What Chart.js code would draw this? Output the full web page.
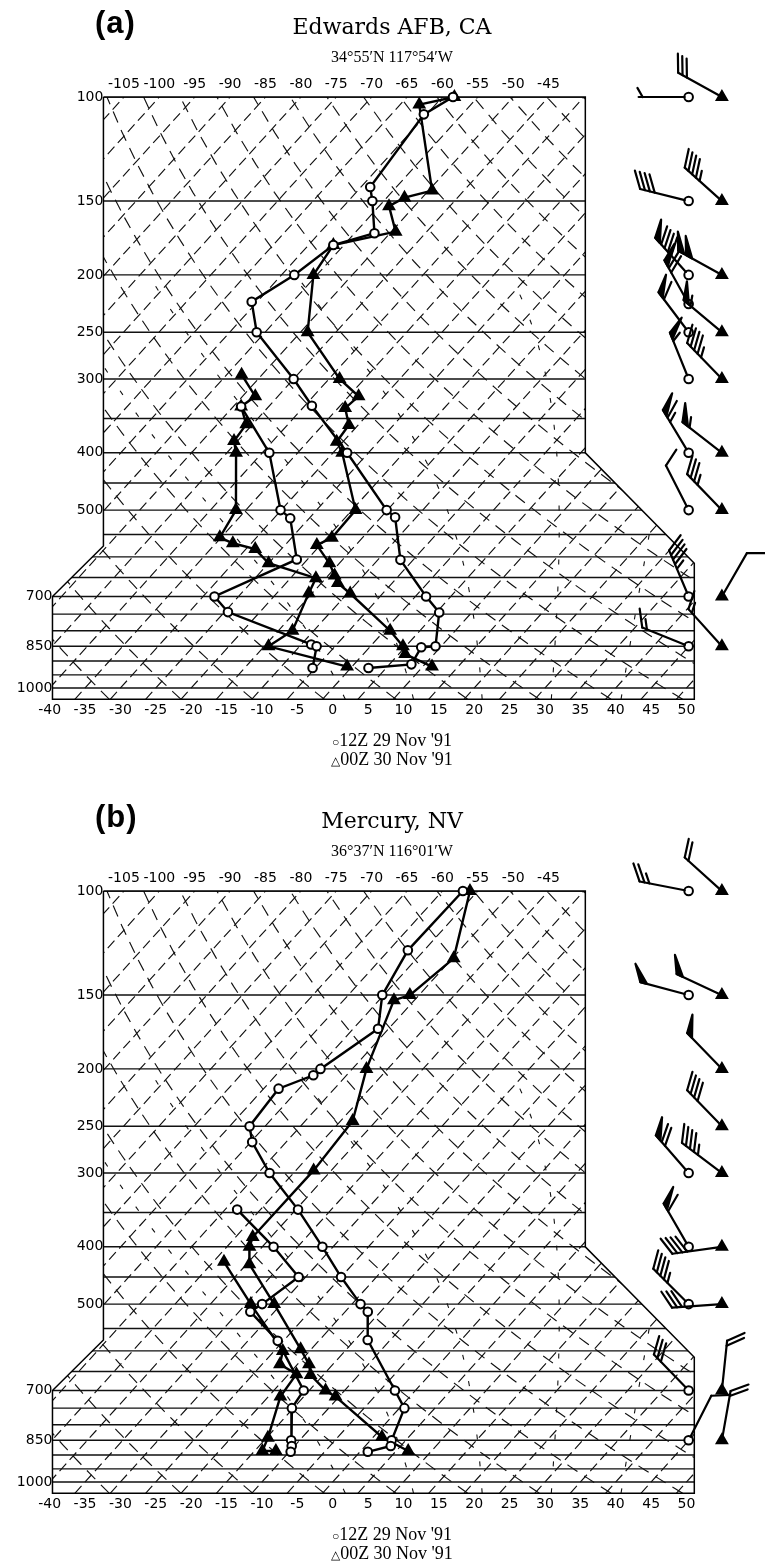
<!DOCTYPE html>
<html>
<head>
<meta charset="utf-8">
<script src="https://cdn.jsdelivr.net/npm/chart.js@4.4.1/dist/chart.umd.min.js"></script>
<style>
  body { margin: 0; background: #fff; }
  #page { position: relative; width: 765px; height: 1564px; overflow: hidden; color: #000; }
  .panel { position: absolute; left: 0; width: 765px; }
  .panel canvas { position: absolute; left: 0; top: 0; }
  .tag { position: absolute; left: 95px; font: bold 31px "Liberation Sans", Arial, sans-serif; line-height: 1; letter-spacing: 1px; }
  .title { position: absolute; left: 0; width: 784px; text-align: center; font: 22px "DejaVu Serif", serif; line-height: 1; }
  .coord { position: absolute; left: 0; width: 784px; text-align: center; font: 16px "Liberation Serif", serif; line-height: 1; }
  .leg { position: absolute; left: 0; width: 784px; text-align: center; font: 18px "Liberation Serif", serif; line-height: 1; }
  .leg .sym { font-size: 12px; }
</style>
</head>
<body>
<div id="page">
  <div class="panel" style="top:0;height:794px">
    <canvas id="chartA" width="765" height="794"></canvas>
    <div class="tag" style="top:7px">(a)</div>
    <div class="title" style="top:16px">Edwards AFB, CA</div>
    <div class="coord" style="top:49px">34°55′N 117°54′W</div>
    <div class="leg" style="top:731px"><span class="sym">○</span>12Z 29 Nov '91</div>
    <div class="leg" style="top:750px"><span class="sym">△</span>00Z 30 Nov '91</div>
  </div>
  <div class="panel" style="top:794px;height:770px">
    <canvas id="chartB" width="765" height="770"></canvas>
    <div class="tag" style="top:7px">(b)</div>
    <div class="title" style="top:16px">Mercury, NV</div>
    <div class="coord" style="top:49px">36°37′N 116°01′W</div>
    <div class="leg" style="top:731px"><span class="sym">○</span>12Z 29 Nov '91</div>
    <div class="leg" style="top:750px"><span class="sym">△</span>00Z 30 Nov '91</div>
  </div>
</div>
<script>
// ---- soundings: pressure (hPa) and temperature (°C) ----

// (a) Edwards AFB, 12Z 29 Nov '91
const EDW_12_P  = [100, 107, 142, 150, 170, 178, 200, 222, 250, 300, 333, 400, 500, 514, 607, 700, 745, 850, 853, 912, 925];
const EDW_12_T  = [-58.5, -60.4, -58.7, -56.6, -52.2, -56.5, -58.2, -60.8, -56.2, -45.0, -39.0, -28.0, -15.1, -13.0, -6.8, 1.5, 5.4, 9.2, 7.3, 8.1, 2.5];
const EDW_12_DP = [334, 400, 500, 516, 606, 700, 744, 844, 850, 925];
const EDW_12_TD = [-48.9, -39.0, -30.1, -27.7, -21.5, -28.4, -24.5, -8.6, -7.6, -5.4];
// (a) Edwards AFB, 00Z 30 Nov '91
const EDW_00_P  = [100, 103, 144, 148, 153, 169, 178, 200, 250, 300, 321, 336, 359, 383, 400, 500, 557, 573, 615, 645, 664, 692, 800, 850, 876, 920];
const EDW_00_T  = [-58.3, -62.3, -49.5, -52.5, -53.6, -49.4, -56.5, -55.5, -49.0, -38.5, -33.6, -34.0, -31.3, -30.9, -28.7, -19.5, -19.3, -20.5, -16.4, -14.1, -12.7, -9.6, 0.8, 4.6, 5.9, 11.3];
const EDW_00_DP = [295, 321, 334, 358, 382, 400, 500, 556, 569, 582, 615, 652, 691, 800, 850, 920];
const EDW_00_TD = [-52.9, -48.2, -48.9, -45.9, -45.5, -43.7, -36.4, -35.2, -32.6, -28.7, -25.0, -16.4, -15.5, -13.0, -14.4, -0.7];

// (b) Mercury, 12Z 29 Nov '91
const MER_12_P  = [100, 126, 150, 171, 200, 205, 216, 250, 266, 300, 346, 400, 450, 500, 515, 575, 700, 750, 850, 869, 889];
const MER_12_T  = [-57.1, -57.3, -55.2, -51.5, -54.5, -54.7, -57.9, -57.2, -54.8, -48.4, -39.7, -31.5, -25.0, -18.8, -16.8, -13.2, -2.9, 0.7, 3.0, 3.6, 1.1];
const MER_12_DP = [346, 400, 450, 500, 515, 577, 700, 750, 850, 869, 889];
const MER_12_TD = [-48.3, -38.4, -31.0, -32.7, -33.4, -25.8, -15.8, -15.2, -11.2, -10.4, -9.8];
// (b) Mercury, 00Z 30 Nov '91
const MER_00_P  = [100, 130, 150, 153, 200, 245, 297, 385, 400, 428, 500, 596, 632, 659, 700, 717, 839, 886];
const MER_00_T  = [-56.1, -49.8, -51.3, -52.9, -48.0, -43.3, -42.5, -42.6, -41.8, -39.6, -31.0, -21.5, -18.4, -16.8, -12.7, -10.5, 1.2, 6.7];
const MER_00_DP = [424, 500, 600, 632, 657, 717, 842, 886, 886];
const MER_00_TD = [-43.5, -34.3, -23.8, -22.5, -18.9, -18.3, -14.8, -13.9, -12.0];

// ---- winds: level (hPa), direction (deg), speed (kt) ----
const EDW_W12_P = [100, 150, 200, 224, 250, 300, 400, 500, 700, 850];
const EDW_W12_D = [270, 284, 318, 331, 323, 338, 329, 333, 337, 292];
const EDW_W12_S = [5, 40, 90, 70, 60, 55, 65, 10, 45, 15];
const EDW_W00_P = [100, 150, 200, 250, 300, 400, 500, 700, 850];
const EDW_W00_D = [299, 312, 299, 310, 316, 308, 316, 30, 318];
const EDW_W00_S = [30, 45, 100, 55, 45, 55, 35, 10, 15];

const MER_W12_P = [100, 150, 300, 400, 500, 700, 850];
const MER_W12_D = [281, 285, 319, 330, 315, 316, 27];
const MER_W12_S = [25, 50, 70, 60, 45, 30, 10];
const MER_W00_P = [100, 150, 200, 250, 300, 400, 500, 700, 850];
const MER_W00_D = [312, 295, 316, 316, 307, 262, 266, 6, 10];
const MER_W00_S = [20, 50, 50, 40, 45, 40, 30, 20, 20];

// ---- diagram grid ----
const ISOBARS = [100, 150, 200, 250, 300, 350, 400, 450, 500, 550, 600, 650, 700, 750, 800, 850, 900, 950, 1000];
const ISOTHERMS = [-105, -100, -95, -90, -85, -80, -75, -70, -65, -60, -55, -50, -45, -40, -35, -30, -25, -20, -15, -10, -5, 0, 5, 10, 15, 20, 25, 30, 35, 40, 45, 50];
const THETAS = [230, 240, 250, 260, 270, 280, 290, 300, 310, 320, 330, 340, 350, 360, 370, 380, 390, 400, 410, 420, 430, 440, 450, 460];
const THETA_W = [1, 11, 21, 31, 41];
const BOTTOM_TICKS = [-40, -35, -30, -25, -20, -15, -10, -5, 0, 5, 10, 15, 20, 25, 30, 35, 40, 45, 50];
const TOP_TICKS = [-105, -100, -95, -90, -85, -80, -75, -70, -65, -60, -55, -50, -45];
const P_TICKS_UP = [100, 150, 200, 250, 300, 400, 500];
const P_TICKS_LOW = [700, 850, 1000];

// ---- geometry ----
const SKEW = 75.5;                 // isotherm shift per decade of pressure, in deg
const PX0 = 332.3, PPU = 7.133;    // pixel of 0 deg on the bottom axis, pixels per deg
const PAD_L = 5, PAD_R = 5, W = 765;
const X_MIN = (PAD_L - PX0) / PPU, X_MAX = (W - PAD_R - PX0) / PPU;
const P_TOP = 100, P_BOT = 1045;
const TOP_H = 97;
// outline of the plotting area, in skewed units / hPa
const FRAME = [[-32.4, 100], [35.7, 100], [35.7, 400], [51.1, 615], [51.1, P_BOT], [-39.6, P_BOT], [-39.6, 700], [-32.4, 575]];
const STN_12 = 50.3, STN_00 = 55.0;   // columns of the wind plots
const STAFF = 50, BARB = 19;

const skewX = (t, p) => t + SKEW * Math.log10(1000 / p);
const TICK_FONT = { family: "DejaVu Sans, sans-serif", size: 14 };

function profile(P, T, shape) {
  const tri = shape === "triangle";
  return {
    data: P.map((p, i) => ({ x: skewX(T[i], p), y: p })),
    borderColor: "#000", borderWidth: 2.4, tension: 0,
    pointStyle: shape, pointRadius: tri ? 6 : 4.3,
    pointBackgroundColor: tri ? "#000" : "#fff", pointBorderColor: "#000", pointBorderWidth: 2,
    clip: false, order: 0,
  };
}

function stations(x, P, shape) {
  const tri = shape === "triangle";
  return {
    data: P.map((p) => ({ x, y: p })),
    showLine: false, pointStyle: shape, pointRadius: tri ? 6 : 4.3,
    pointBackgroundColor: tri ? "#000" : "#fff", pointBorderColor: "#000", pointBorderWidth: 2,
    clip: false, order: 1,
  };
}

function gridSet(lines, dash, width) {
  const data = [];
  lines.forEach((l) => { data.push(...l, { x: 0, y: null }); });
  return {
    data, borderColor: "#111", borderWidth: width, borderDash: dash,
    pointRadius: 0, spanGaps: false, tension: 0, toFrame: true, order: 10,
  };
}

function isobarLines() {
  return ISOBARS.map((p) => [{ x: X_MIN - 20, y: p }, { x: X_MAX + 20, y: p }]);
}
function isothermLines() {
  return ISOTHERMS.map((t) => [{ x: skewX(t, P_BOT), y: P_BOT }, { x: skewX(t, P_TOP), y: P_TOP }]);
}
const LEVELS = [];
for (let p = P_BOT; p >= P_TOP; p -= 15) LEVELS.push(p);
if (LEVELS[LEVELS.length - 1] !== P_TOP) LEVELS.push(P_TOP);

function adiabatLines() {
  return THETAS.map((th) => LEVELS.map((p) => ({ x: skewX(th * Math.pow(p / 1000, 0.2857) - 273.15, p), y: p })));
}
// pseudo-adiabats, stepped upward from 1000 hPa
function moistLines() {
  const Rd = 287.04, Cp = 1005.7, Lv = 2.501e6, eps = 0.622;
  const rate = (T, p) => {
    const es = 6.112 * Math.exp(17.67 * (T - 273.15) / (T - 29.65));
    const rs = eps * es / (p - es);
    return (Rd * T + Lv * rs) / (p * (Cp + Lv * Lv * rs * eps / (Rd * T * T)));
  };
  return THETA_W.map((tw) => {
    const pts = [];
    let T = tw + 273.15;
    for (let p = 1000; p < P_BOT; p += 5) T += rate(T, p) * 5;
    for (let p = P_BOT; p >= 200; p -= 5) {
      if (p % 20 === 0 || p === P_BOT) pts.push({ x: skewX(T - 273.15, p), y: p });
      T -= rate(T, p) * 5;
    }
    return pts;
  });
}

function tracePath(chart, pts) {
  const { x, y } = chart.scales, ctx = chart.ctx;
  ctx.beginPath();
  pts.forEach((v, i) => {
    const px = x.getPixelForValue(v[0]), py = y.getPixelForValue(v[1]);
    if (i) ctx.lineTo(px, py); else ctx.moveTo(px, py);
  });
  ctx.closePath();
}

const frameClip = {
  id: "frameClip",
  beforeDatasetDraw(chart, args) {
    if (!chart.data.datasets[args.index].toFrame) return;
    chart.ctx.save();
    tracePath(chart, FRAME);
    chart.ctx.clip();
  },
  afterDatasetDraw(chart, args) {
    if (chart.data.datasets[args.index].toFrame) chart.ctx.restore();
  },
};

function drawBarb(ctx, x, y, dir, spd) {
  const a = dir * Math.PI / 180;
  const ux = Math.sin(a), uy = -Math.cos(a);
  const nx = -uy, ny = ux;
  const tx = nx * 0.87 + ux * 0.5, ty = ny * 0.87 + uy * 0.5;
  const ex = x + ux * STAFF, ey = y + uy * STAFF;
  ctx.beginPath();
  ctx.moveTo(x + ux * 4, y + uy * 4);
  ctx.lineTo(ex, ey);
  ctx.stroke();
  const at = (k) => [ex - ux * k, ey - uy * k];
  let s = Math.round(spd / 5) * 5, d = 0;
  while (s >= 50) {
    const [bx, by] = at(d), [cx, cy] = at(d + 7);
    ctx.beginPath();
    ctx.moveTo(bx, by); ctx.lineTo(bx + tx * BARB, by + ty * BARB); ctx.lineTo(cx, cy);
    ctx.closePath(); ctx.fill(); ctx.stroke();
    d += 9; s -= 50;
  }
  while (s >= 10) {
    const [bx, by] = at(d);
    ctx.beginPath(); ctx.moveTo(bx, by); ctx.lineTo(bx + tx * BARB, by + ty * BARB); ctx.stroke();
    d += 5; s -= 10;
  }
  if (s >= 5) {
    if (d === 0) d = 4;
    const [bx, by] = at(d);
    ctx.beginPath(); ctx.moveTo(bx, by); ctx.lineTo(bx + tx * BARB * 0.55, by + ty * BARB * 0.55); ctx.stroke();
  }
}

function barbPlugin(winds) {
  return {
    id: "barbs",
    afterDatasetsDraw(chart) {
      const { x, y } = chart.scales, ctx = chart.ctx;
      ctx.save();
      ctx.strokeStyle = "#000"; ctx.fillStyle = "#000";
      ctx.lineWidth = 2.2; ctx.lineCap = "round"; ctx.lineJoin = "round";
      winds.forEach((w) => {
        w.P.forEach((p, i) => drawBarb(ctx, x.getPixelForValue(w.x), y.getPixelForValue(p), w.D[i], w.S[i]));
      });
      ctx.restore();
    },
  };
}

function fixedTicks(values) {
  return (scale) => { scale.ticks = values.map((v) => ({ value: v })); };
}

function pAxis(values, xPos) {
  return {
    type: "logarithmic", min: P_TOP, max: P_BOT, reverse: true,
    position: { x: xPos },
    afterBuildTicks: fixedTicks(values),
    grid: { display: false, drawTicks: false }, border: { display: false },
    ticks: { font: TICK_FONT, color: "#000", padding: 2, autoSkip: false, callback: (v) => String(v) },
  };
}

function makePanel(id, height, s) {
  const frame = FRAME.concat([FRAME[0]]).map((v) => ({ x: v[0], y: v[1] }));
  const datasets = [
    profile(s.t12P, s.t12T, "circle"),
    profile(s.d12P, s.d12T, "circle"),
    profile(s.t00P, s.t00T, "triangle"),
    profile(s.d00P, s.d00T, "triangle"),
    stations(STN_12, s.w12.P, "circle"),
    stations(STN_00, s.w00.P, "triangle"),
    { data: frame, borderColor: "#000", borderWidth: 1.5, pointRadius: 0, tension: 0, clip: false, order: 5 },
    gridSet(isobarLines(), [], 1.4),
    gridSet(isothermLines(), [10, 5], 1.15),
    gridSet(adiabatLines(), [12, 8], 1.15),
    gridSet(moistLines(), [5, 22], 1.1),
  ];
  return new Chart(document.getElementById(id), {
    type: "line",
    data: { datasets },
    options: {
      responsive: false, animation: false, devicePixelRatio: 1, events: [],
      layout: { padding: { left: PAD_L, right: PAD_R, top: 0, bottom: 0 } },
      plugins: { legend: { display: false }, tooltip: { enabled: false } },
      scales: {
        x: {
          type: "linear", min: X_MIN, max: X_MAX, position: "bottom",
          afterBuildTicks: fixedTicks(BOTTOM_TICKS),
          afterFit: (sc) => { sc.height = height - 699.3; },
          grid: { display: false, drawTicks: false }, border: { display: false },
          ticks: { font: TICK_FONT, color: "#000", padding: 3, maxRotation: 0, autoSkip: false, callback: (v) => String(v) },
        },
        xTop: {
          type: "linear", min: X_MIN - SKEW, max: X_MAX - SKEW, position: "top",
          afterBuildTicks: fixedTicks(TOP_TICKS),
          afterFit: (sc) => { sc.height = TOP_H; },
          grid: { display: false, drawTicks: false }, border: { display: false },
          ticks: { font: TICK_FONT, color: "#000", padding: 4, maxRotation: 0, autoSkip: false, callback: (v) => String(v) },
        },
        y: { type: "logarithmic", min: P_TOP, max: P_BOT, reverse: true, display: false },
        yUp: pAxis(P_TICKS_UP, FRAME[0][0]),
        yLow: pAxis(P_TICKS_LOW, FRAME[5][0]),
      },
    },
    plugins: [frameClip, barbPlugin([
      { x: STN_12, ...s.w12 },
      { x: STN_00, ...s.w00 },
    ])],
  });
}

makePanel("chartA", 794, {
  t12P: EDW_12_P, t12T: EDW_12_T, d12P: EDW_12_DP, d12T: EDW_12_TD,
  t00P: EDW_00_P, t00T: EDW_00_T, d00P: EDW_00_DP, d00T: EDW_00_TD,
  w12: { P: EDW_W12_P, D: EDW_W12_D, S: EDW_W12_S },
  w00: { P: EDW_W00_P, D: EDW_W00_D, S: EDW_W00_S },
});
makePanel("chartB", 770, {
  t12P: MER_12_P, t12T: MER_12_T, d12P: MER_12_DP, d12T: MER_12_TD,
  t00P: MER_00_P, t00T: MER_00_T, d00P: MER_00_DP, d00T: MER_00_TD,
  w12: { P: MER_W12_P, D: MER_W12_D, S: MER_W12_S },
  w00: { P: MER_W00_P, D: MER_W00_D, S: MER_W00_S },
});
</script>
</body>
</html>
